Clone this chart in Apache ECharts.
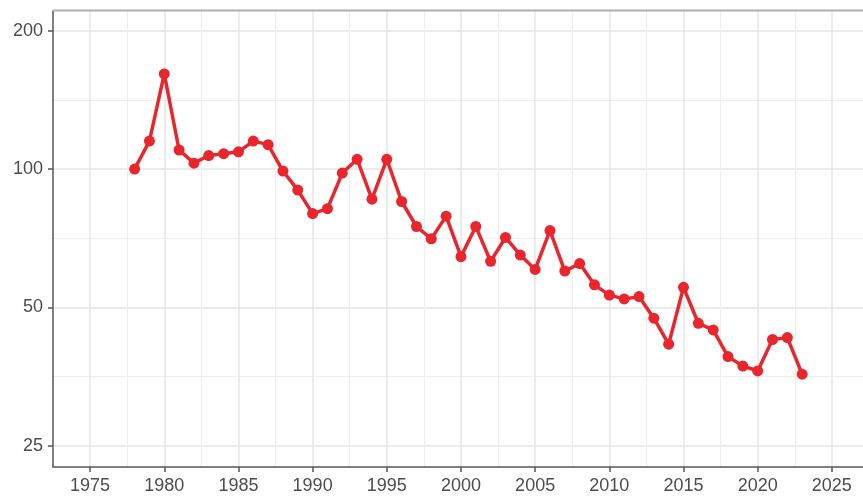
<!DOCTYPE html>
<html>
<head>
<meta charset="utf-8">
<script src="https://cdn.jsdelivr.net/npm/echarts@6/dist/echarts.min.js"></script>
<style>
  html, body { margin: 0; padding: 0; background: #fff; }
  #main { width: 863px; height: 497px; }
</style>
</head>
<body>
<div id="main"></div>
<script>
// 年份与数值
var years = [1978, 1979, 1980, 1981, 1982, 1983, 1984, 1985, 1986, 1987,
  1988, 1989, 1990, 1991, 1992, 1993, 1994, 1995, 1996, 1997,
  1998, 1999, 2000, 2001, 2002, 2003, 2004, 2005, 2006, 2007,
  2008, 2009, 2010, 2011, 2012, 2013, 2014, 2015, 2016, 2017,
  2018, 2019, 2020, 2021, 2022, 2023];
var values = [100, 115, 161, 110, 103, 107, 108, 109, 115, 113,
  99, 90, 80, 82, 98, 105, 86, 105, 85, 75,
  70.5, 79, 64.5, 75, 63, 71, 65, 60.5, 73.5, 60,
  62.3, 56, 53.2, 52.2, 52.8, 47.4, 41.6, 55.3, 46.2, 44.7,
  39.1, 37.3, 36.4, 42.6, 43, 35.8];
var xTicks = [1975, 1980, 1985, 1990, 1995, 2000, 2005, 2010, 2015, 2020, 2025];
var xMinor = [1977.5, 1982.5, 1987.5, 1992.5, 1997.5, 2002.5, 2007.5, 2012.5, 2017.5, 2022.5];
var yTicks = [25, 50, 100, 200];
var yMinor = [35.36, 70.71, 141.42];

var chart = echarts.init(document.getElementById('main'));

var labelStyle = {
  color: '#4d4d4d',
  fontFamily: 'Liberation Sans, Arial, sans-serif',
  fontSize: 18
};

chart.setOption({
  animation: false,
  grid: {
    left: 53,
    right: 0,
    top: 11,
    bottom: 30,
    show: true,
    borderWidth: 0
  },
  xAxis: [{
    type: 'value',
    min: 1972.5,
    max: 2027.1,
    axisLine: { lineStyle: { color: '#555', width: 1.5 } },
    axisTick: { length: 5, lineStyle: { color: '#555', width: 1.5 }, customValues: xTicks },
    axisLabel: Object.assign({
      margin: 10,
      customValues: xTicks,
      formatter: function (v) { return String(v); }
    }, labelStyle),
    splitLine: { lineStyle: { color: '#e6e6e6', width: 1.5 } }
  }, {
    type: 'value',
    min: 1972.5,
    max: 2027.1,
    position: 'bottom',
    axisLine: { show: false },
    axisTick: { show: false, customValues: xMinor },
    axisLabel: { show: false, customValues: xMinor },
    splitLine: { lineStyle: { color: '#eeeeee', width: 1.2 } }
  }],
  yAxis: [{
    type: 'log',
    logBase: 2,
    min: 22.5,
    max: 220.6,
    axisLine: { show: true, lineStyle: { color: '#555', width: 1.5 } },
    axisTick: { show: true, length: 5, lineStyle: { color: '#555', width: 1.5 }, customValues: yTicks },
    axisLabel: Object.assign({ margin: 10, customValues: yTicks }, labelStyle),
    splitLine: { lineStyle: { color: '#e6e6e6', width: 1.5 } }
  }, {
    type: 'log',
    logBase: 2,
    min: 22.5,
    max: 220.6,
    position: 'left',
    axisLine: { show: false },
    axisTick: { show: false, customValues: yMinor },
    axisLabel: { show: false, customValues: yMinor },
    splitLine: { lineStyle: { color: '#eeeeee', width: 1.2 } }
  }],
  graphic: [{
    type: 'line',
    shape: { x1: 53, y1: 10.5, x2: 863, y2: 10.5 },
    style: { stroke: '#b0b0b0', lineWidth: 2 },
    z: 10
  }],
  series: [{
    type: 'line',
    data: years.map(function (y, i) { return [y, values[i]]; }),
    symbol: 'circle',
    symbolSize: 11,
    lineStyle: { color: '#e8262b', width: 3.5 },
    itemStyle: { color: '#e8262b' },
    z: 5
  }]
});
</script>
</body>
</html>
